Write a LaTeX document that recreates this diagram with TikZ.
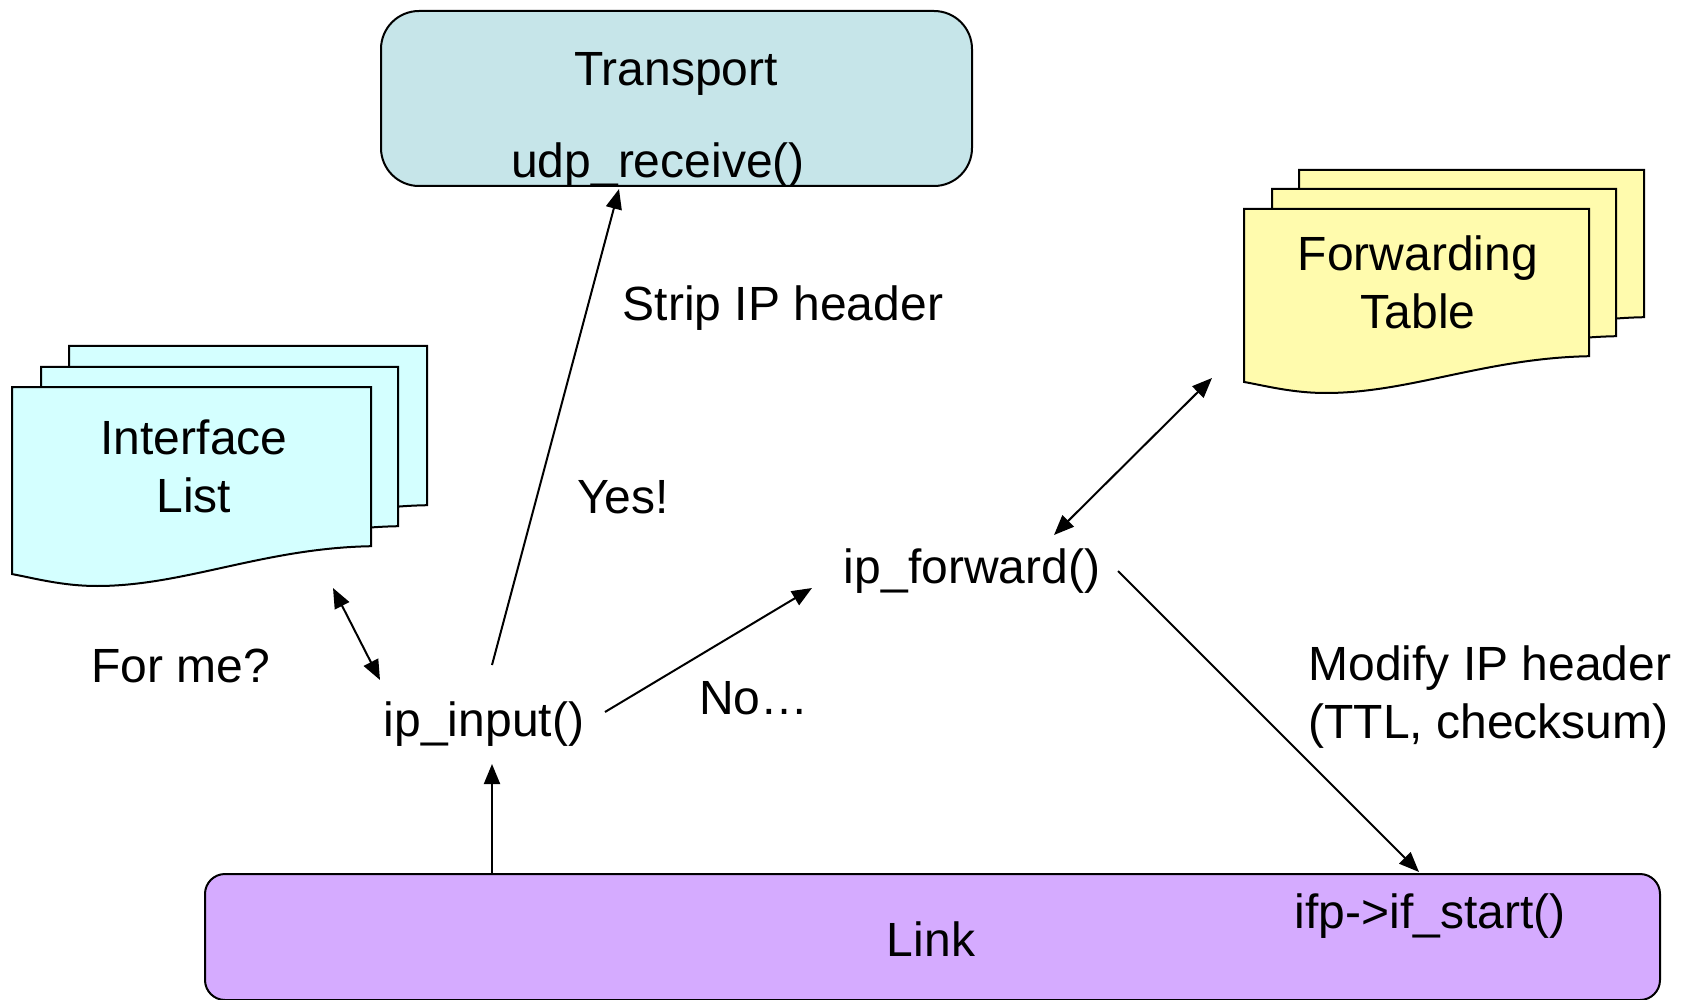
\documentclass[tikz,border=0pt]{standalone}
\usepackage{fontspec}
\setmainfont{Liberation Sans}
\usetikzlibrary{arrows.meta}
\definecolor{transportc}{HTML}{C6E5E9}
\definecolor{ifacec}{HTML}{D4FFFF}
\definecolor{fwdc}{HTML}{FFFBAD}
\definecolor{linkc}{HTML}{D5ABFF}
\newcommand\docpage[5]{% x y w H fill
  \draw[boxline,fill=#5] (#1,#2) -- ({#1+#3},#2) -- ({#1+#3},{#2+0.8*#4})
    .. controls ({#1+0.7*#3},{#2+0.8*#4+2}) and ({#1+0.48*#3},{#2+#4}) .. ({#1+0.237*#3},{#2+#4})
    .. controls ({#1+0.14*#3},{#2+#4}) and ({#1+0.06*#3},{#2+0.96*#4}) .. (#1,{#2+0.94*#4}) -- cycle;}
\begin{document}
\begin{tikzpicture}[x=0.5pt,y=-0.5pt,
  every node/.style={inner sep=0pt, align=center},
  txt/.style={font=\fontsize{24}{29}\selectfont, yshift=-1.6pt},
  boxline/.style={draw=black, line width=1pt},
  arr/.style={line width=1pt, -{Triangle[length=10pt,width=8pt]}},
  darr/.style={line width=1pt, {Triangle[length=10pt,width=8pt]}-{Triangle[length=10pt,width=8pt]}}]
\useasboundingbox (0,0) rectangle (1682,1000);

% Transport box
\node (transport) [boxline, fill=transportc, rounded corners=19pt, minimum width=295.5pt, minimum height=87.5pt] at (676.5,98.5) {};
\node (transportlbl) [txt] at (676,71) {Transport};
\node (udp) [txt] at (658,162) {udp\_receive()};

% Link box
\node (link) [boxline, fill=linkc, rounded corners=10pt, minimum width=727.5pt, minimum height=63pt] at (932.5,937) {};
\node (linklbl) [txt] at (931,936) {Link};
\node (ifstart) [txt] at (1430,913) {ifp->if\_start()};

% Interface list stack
\docpage{69}{346}{358}{199}{ifacec}
\docpage{41}{367}{357}{199}{ifacec}
\docpage{12}{387}{359}{199}{ifacec}
\node (iface) [txt] at (194,463) {Interface\\List};

% Forwarding table stack
\docpage{1299}{170}{345}{184}{fwdc}
\docpage{1272}{189}{344}{184}{fwdc}
\docpage{1244}{209}{345}{184}{fwdc}
\node (fwd) [txt] at (1418,279) {Forwarding\\Table};

% text nodes
\node (strip) [txt] at (783,305) {Strip IP header};
\node (yes) [txt] at (623,494) {Yes!};
\node (forme) [txt] at (181,663) {For me?};
\node (ipinput) [txt] at (484,721) {ip\_input()};
\node (no) [txt] at (754,695) {No…};
\node (ipfwd) [txt] at (972,568) {ip\_forward()};
\node (modify) [txt, anchor=west, align=left] at (1308,694) {Modify IP header\\(TTL, checksum)};

% connector end points
\coordinate (inpbot) at (492,764);
\coordinate (inptop) at (492,665);
\coordinate (udpbot) at (619,189);
\coordinate (ifaceend) at (333,588);
\coordinate (inpleft) at (380,680);
\coordinate (inpright) at (605,712);
\coordinate (fwdleft) at (812,588);
\coordinate (fwdtop) at (1054,535);
\coordinate (tableend) at (1212,378);
\coordinate (fwdright) at (1118,571);
\coordinate (startend) at (1419,872);

% connectors
\draw[arr] (link.north -| inpbot) -- (inpbot);
\draw[arr] (inptop) -- (udpbot);
\draw[darr] (ifaceend) -- (inpleft);
\draw[arr] (inpright) -- (fwdleft);
\draw[darr] (fwdtop) -- (tableend);
\draw[arr] (fwdright) -- (startend);
\end{tikzpicture}
\end{document}
